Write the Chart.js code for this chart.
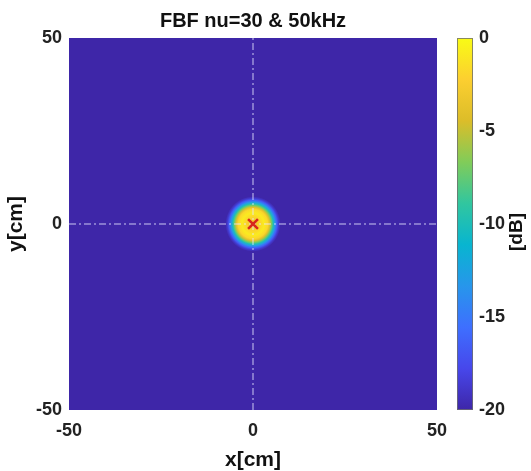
<!DOCTYPE html>
<html>
<head>
<meta charset="utf-8">
<script src="https://cdn.jsdelivr.net/npm/chart.js@4.4.1/dist/chart.umd.min.js"></script>
<style>
html, body { margin: 0; padding: 0; background: #fff; }
canvas { display: block; }
</style>
</head>
<body>
<canvas id="fieldChart" width="531" height="471"></canvas>
<script>
// axis ticks [cm] and colorbar ticks [dB]
const xTicks = [-50, 0, 50];
const yTicks = [-50, 0, 50];
const dbTicks = [-20, -15, -10, -5, 0];

// source position (red cross)
const sourceX = [0];
const sourceY = [0];

// level through the focal spot, read along y = 0 (radius in cm -> dB)
const radiusCm = [0, 1, 2, 3, 4, 4.5, 5, 5.5, 6, 6.5, 7, 7.5];
const levelDb = [-3.2, -2.8, -1.8, -0.8, -1.8, -4, -6.8, -10, -13.5, -16.5, -18.8, -20];
const floorDb = -20;

const chartTitle = 'FBF nu=30 & 50kHz';
const FONT = "'Liberation Sans', Arial, sans-serif";

// parula anchors
const parula = [[62,38,168],[71,71,235],[62,111,255],[39,150,235],[8,181,208],
                [49,198,159],[129,204,89],[220,189,41],[252,207,48],[249,251,21]];

function parulaColor(db) {
    let t = (db - floorDb) / (0 - floorDb);
    t = Math.min(1, Math.max(0, t)) * (parula.length - 1);
    const i = Math.min(Math.floor(t), parula.length - 2);
    const f = t - i;
    const c = parula[i].map((v, k) => Math.round(v + (parula[i + 1][k] - v) * f));
    return `rgb(${c[0]},${c[1]},${c[2]})`;
}

const fieldPlugin = {
    id: 'field',
    beforeDatasetsDraw(chart) {
        const { ctx, chartArea: a, scales: { x, y } } = chart;
        ctx.save();
        ctx.fillStyle = parulaColor(floorDb);
        ctx.fillRect(a.left, a.top, a.width, a.height);

        const cx = x.getPixelForValue(sourceX[0]);
        const cy = y.getPixelForValue(sourceY[0]);
        const rLast = radiusCm[radiusCm.length - 1];
        const rMax = x.getPixelForValue(rLast) - x.getPixelForValue(0);
        const g = ctx.createRadialGradient(cx, cy, 0, cx, cy, rMax);
        radiusCm.forEach((r, i) => g.addColorStop(r / rLast, parulaColor(levelDb[i])));
        ctx.fillStyle = g;
        ctx.beginPath();
        ctx.arc(cx, cy, rMax, 0, Math.PI * 2);
        ctx.fill();
        ctx.restore();
    },
    afterDraw(chart) {
        const { ctx, chartArea: a, scales: { cb } } = chart;
        const top = cb.getPixelForValue(0);
        const bottom = cb.getPixelForValue(floorDb);
        const left = cb.left + 20, w = 16;

        ctx.save();
        // title
        ctx.fillStyle = '#111';
        ctx.font = `bold 20px ${FONT}`;
        ctx.textAlign = 'center';
        ctx.textBaseline = 'middle';
        ctx.fillText(chartTitle, (a.left + a.right) / 2, 21);

        // colorbar
        const g = ctx.createLinearGradient(0, bottom, 0, top);
        parula.forEach((c, i) => g.addColorStop(i / (parula.length - 1), `rgb(${c[0]},${c[1]},${c[2]})`));
        ctx.fillStyle = g;
        ctx.fillRect(left, top, w, bottom - top);
        ctx.strokeStyle = 'rgba(110,110,110,0.8)';
        ctx.lineWidth = 1;
        ctx.strokeRect(left + 0.5, top + 0.5, w - 1, bottom - top - 1);

        ctx.translate(517, (top + bottom) / 2 + 8);
        ctx.rotate(-Math.PI / 2);
        ctx.fillStyle = '#111';
        ctx.font = `bold 19px ${FONT}`;
        ctx.fillText('[dB]', 0, 0);
        ctx.restore();
    }
};

const tickFont = { family: FONT, size: 18, weight: 'bold' };
const labelFont = { family: FONT, size: 21, weight: 'bold', lineHeight: 1 };
const dashColor = 'rgba(230,230,255,0.85)';

new Chart(document.getElementById('fieldChart'), {
    type: 'scatter',
    data: {
        datasets: [
            {
                data: sourceX.map((v, i) => ({ x: v, y: sourceY[i] })),
                pointStyle: 'crossRot',
                pointRadius: 7,
                borderWidth: 2.5,
                borderColor: '#d8261c'
            },
            {
                data: [{ x: xTicks[0], y: 0 }, { x: xTicks[xTicks.length - 1], y: 0 }],
                showLine: true, pointRadius: 0,
                borderColor: dashColor, borderWidth: 1, borderDash: [7, 3, 2, 3]
            },
            {
                data: [{ x: 0, y: yTicks[0] }, { x: 0, y: yTicks[yTicks.length - 1] }],
                showLine: true, pointRadius: 0,
                borderColor: dashColor, borderWidth: 1, borderDash: [7, 3, 2, 3]
            }
        ]
    },
    options: {
        responsive: false,
        devicePixelRatio: 1,
        animation: false,
        events: [],
        layout: { padding: { top: 38 } },
        plugins: {
            legend: { display: false },
            tooltip: { enabled: false }
        },
        scales: {
            x: {
                type: 'linear', min: xTicks[0], max: xTicks[xTicks.length - 1],
                afterBuildTicks: s => { s.ticks = xTicks.map(v => ({ value: v })); },
                afterFit: s => { s.height = 61; },
                grid: { display: false, drawTicks: false },
                border: { display: false },
                ticks: { font: tickFont, color: '#222', padding: 10, maxRotation: 0 },
                title: { display: true, text: 'x[cm]', font: labelFont, color: '#111', padding: 0 }
            },
            y: {
                type: 'linear', min: yTicks[0], max: yTicks[yTicks.length - 1],
                afterBuildTicks: s => { s.ticks = yTicks.map(v => ({ value: v })); },
                afterFit: s => { s.width = 69; },
                grid: { display: false, drawTicks: false },
                border: { display: false },
                ticks: { font: tickFont, color: '#222', padding: 7 },
                title: { display: true, text: 'y[cm]', font: labelFont, color: '#111', padding: { top: 6, bottom: 0 } }
            },
            cb: {
                type: 'linear', position: 'right', min: floorDb, max: 0,
                afterBuildTicks: s => { s.ticks = dbTicks.map(v => ({ value: v })); },
                afterFit: s => { s.width = 94; },
                grid: { display: false, drawTicks: true, tickLength: 39 },
                border: { display: false },
                ticks: { font: tickFont, color: '#222', padding: 3 }
            }
        }
    },
    plugins: [fieldPlugin]
});
</script>
</body>
</html>
